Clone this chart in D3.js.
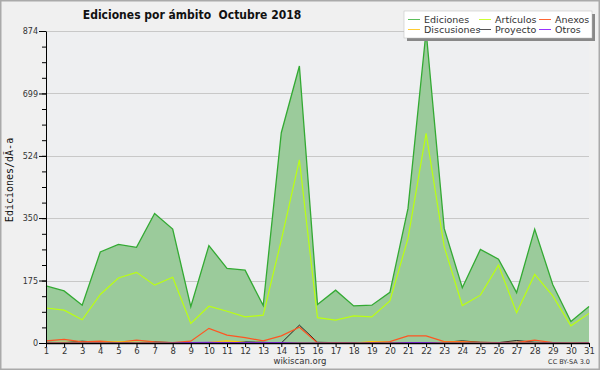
<!DOCTYPE html>
<html><head><meta charset="utf-8">
<script src="https://cdn.jsdelivr.net/npm/d3@7"></script>
<style>body{margin:0;padding:0;background:#fff}svg{display:block}</style>
</head><body>
<svg id="c" width="600" height="370"></svg>
<script>
const days = d3.range(1, 32);
const edits = [160,146,106,255,276,268,363,319,102,273,209,204,105,589,776,108,148,104,106,142,377,874,321,155,262,235,141,319,163,60,102];
const articulos = [98,92,65,136,182,198,162,184,55,103,89,73,78,288,513,71,64,76,73,118,293,587,270,105,134,218,85,192,132,48,83];
const anexos = [6,10,3,5,2,8,3,1,5,41,22,15,6,20,44,0,1,0,2,4,20,20,4,4,2,1,2,8,1,0,1];
const discusiones = [1,2,1,1,3,2,1,0,0,2,6,2,1,0,0,0,0,0,4,1,0,0,2,2,1,0,1,1,0,1,0];
const proyecto = [2,1,5,2,1,1,3,1,1,1,1,3,2,0,50,2,1,0,0,1,0,0,2,6,2,1,7,2,1,1,1];
const otros = [0,0,0,0,0,0,0,0,1,2,1,1,1,1,0,0,0,0,0,0,1,1,0,0,0,0,0,0,0,0,0];
const yTicks = [0,175,350,524,699,874];
const legendItems = [["Ediciones","#5cbf5c"],["Artículos","#ccff33"],["Anexos","#ff6633"],["Discusiones","#ffcc33"],["Proyecto","#555555"],["Otros","#9933ff"]];

const svg = d3.select("#c");
svg.append("rect").attr("x",0.5).attr("y",0.5).attr("width",599).attr("height",369).attr("fill","#f0f0f0").attr("stroke","#aaaaaa").attr("stroke-width",2);

const x = d3.scaleLinear().domain([1,31]).range([46,589]);
const y = d3.scaleLinear().domain([0,874]).range([343,31]);

svg.append("rect").attr("x",46).attr("y",31).attr("width",543).attr("height",312).attr("fill","#eeeff1");

svg.append("g").selectAll("line").data(yTicks.slice(1)).join("line")
  .attr("x1",46).attr("x2",589).attr("y1",d=>Math.round(y(d))+0.5).attr("y2",d=>Math.round(y(d))+0.5)
  .attr("stroke","#c8c8c8").attr("stroke-width",1);

const area = d3.area().x((d,i)=>x(days[i])).y0(y(0)).y1(d=>y(d));
const line = d3.line().x((d,i)=>x(days[i])).y(d=>y(d));

svg.append("path").datum(edits).attr("d",area).attr("fill","#9bcb9b");
svg.append("path").datum(edits).attr("d",line).attr("fill","none").attr("stroke","#33aa33").attr("stroke-width",1.3);
svg.append("path").datum(articulos).attr("d",line).attr("fill","none").attr("stroke","#bbff11").attr("stroke-width",1.2);
svg.append("path").datum(proyecto).attr("d",line).attr("fill","none").attr("stroke","#222222").attr("stroke-width",1);
svg.append("path").datum(anexos).attr("d",line).attr("fill","none").attr("stroke","#ff5522").attr("stroke-width",1.2);
svg.append("path").datum(discusiones).attr("d",line).attr("fill","none").attr("stroke","#ffcc00").attr("stroke-width",1.2);
svg.append("path").datum(otros).attr("d",line).attr("fill","none").attr("stroke","#9933ff").attr("stroke-width",1.2);

const yMinor = d3.range(0, 874, 174.8/4);
const yAxis = d3.axisLeft(y).tickValues(yTicks).tickSize(7).tickSizeOuter(0).tickPadding(1);
const gy = svg.append("g").attr("transform","translate(46,0)").call(yAxis);
gy.select(".domain").attr("stroke","#000");
gy.selectAll(".tick line").attr("stroke","#000");
gy.selectAll(".tick text").attr("font-family","DejaVu Sans").attr("font-size",8).attr("fill","#333");
svg.append("g").attr("transform","translate(46,0)").call(d3.axisLeft(y).tickValues(yMinor).tickSize(4).tickFormat("")).select(".domain").remove();

const xAxis = d3.axisBottom(x).tickValues(days).tickSize(4).tickSizeOuter(0).tickPadding(1).tickFormat(d3.format("d"));
const gx = svg.append("g").attr("transform","translate(0,343)").call(xAxis);
gx.select(".domain").attr("stroke","#000").attr("stroke-width",1.5);
gx.selectAll(".tick line").attr("stroke","#000");
gx.selectAll(".tick text").attr("font-family","DejaVu Sans").attr("font-size",8.5).attr("fill","#333");

svg.append("text").attr("x",192).attr("y",19).attr("text-anchor","middle").style("white-space","pre")
  .attr("font-family","DejaVu Sans Condensed, DejaVu Sans").attr("font-weight","bold").attr("font-size",12).attr("fill","#111")
  .text("Ediciones por ámbito  Octubre 2018");

svg.append("text").attr("transform","translate(13,180) rotate(-90)").attr("text-anchor","middle")
  .attr("font-family","DejaVu Sans Mono").attr("font-size",10).attr("fill","#111").text("Ediciones/dÃ-a");

svg.append("text").attr("x",300).attr("y",364).attr("text-anchor","middle").attr("font-family","DejaVu Sans").attr("font-size",8.5).attr("fill","#333").text("wikiscan.org");
svg.append("text").attr("x",590).attr("y",364).attr("text-anchor","end").attr("font-family","DejaVu Sans").attr("font-size",6.5).attr("fill","#333").text("CC BY-SA 3.0");

const lg = svg.append("g");
lg.append("rect").attr("x",407).attr("y",14).attr("width",188).attr("height",27).attr("fill","#888");
lg.append("rect").attr("x",404).attr("y",11).attr("width",188).attr("height",27).attr("fill","#fff").attr("stroke","#bbb").attr("stroke-width",0.5);
const colX = [408, 479, 539];
const rowY = [19, 29];
legendItems.forEach((it,i)=>{
  const cx = colX[i%3], cy = rowY[Math.floor(i/3)];
  lg.append("line").attr("x1",cx).attr("x2",cx+12).attr("y1",cy+0.5).attr("y2",cy+0.5).attr("stroke",it[1]).attr("stroke-width",1);
  lg.append("text").attr("x",cx+16).attr("y",cy+3.5).attr("font-family","DejaVu Sans").attr("font-size",9.5).attr("fill","#333").text(it[0]);
});
</script>
</body></html>
